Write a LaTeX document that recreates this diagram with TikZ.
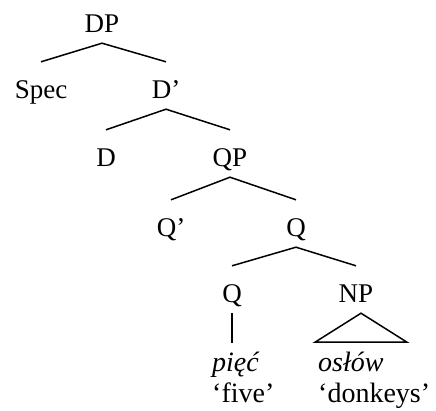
\documentclass[tikz,border=0pt]{standalone}
\usepackage{fontspec}
\setmainfont{Liberation Serif}
\usetikzlibrary{calc}
\begin{document}
\begin{tikzpicture}[x=1pt,y=-1pt,
  lab/.style={inner xsep=0pt,inner ysep=0pt,text height=36pt,text depth=11pt,anchor=base,font=\fontsize{27}{32}\selectfont},
  leaf/.style={inner sep=0pt,text height=28pt,text depth=0pt,anchor=base west,font=\fontsize{28}{32}\selectfont},
  br/.style={line width=1.5pt}]
\useasboundingbox (0,0) rectangle (436,410);
\node[lab] (DP) at (102,32) {DP};
\node[lab] (Spec) at (41,98) {Spec};
\node[lab] (Dbar) at (166,98) {D’};
\node[lab] (D) at (106,166) {D};
\node[lab] (QP) at (230,166) {QP};
\node[lab] (Qbar) at (171,236) {Q’};
\node[lab] (Q1) at (296,236) {Q};
\node[lab] (Q2) at (232,302) {Q};
\node[lab] (NP) at (356,302) {NP};
\node[leaf] (piec) at (212,371) {\itshape pięć};
\node[leaf] (five) at (212,402) {‘five’};
\node[leaf] (oslow) at (318,371) {\itshape osłów};
\node[leaf] (donk) at (318,402) {‘donkeys’};
\draw[br] (Spec.north) -- (DP.south) -- (Dbar.north);
\draw[br] (D.north) -- (Dbar.south) -- (QP.north);
\draw[br] (Qbar.north) -- (QP.south) -- (Q1.north);
\draw[br] (Q2.north) -- (Q1.south) -- (NP.north);
\draw[br] (Q2.south) -- (Q2.south |- piec.north);
\coordinate (apex) at ($(NP.south)+(5,0)$);
\draw[br] (apex) -- ($(apex)+(-46,29)$) -- ($(apex)+(46,29)$) -- cycle;
\end{tikzpicture}
\end{document}
